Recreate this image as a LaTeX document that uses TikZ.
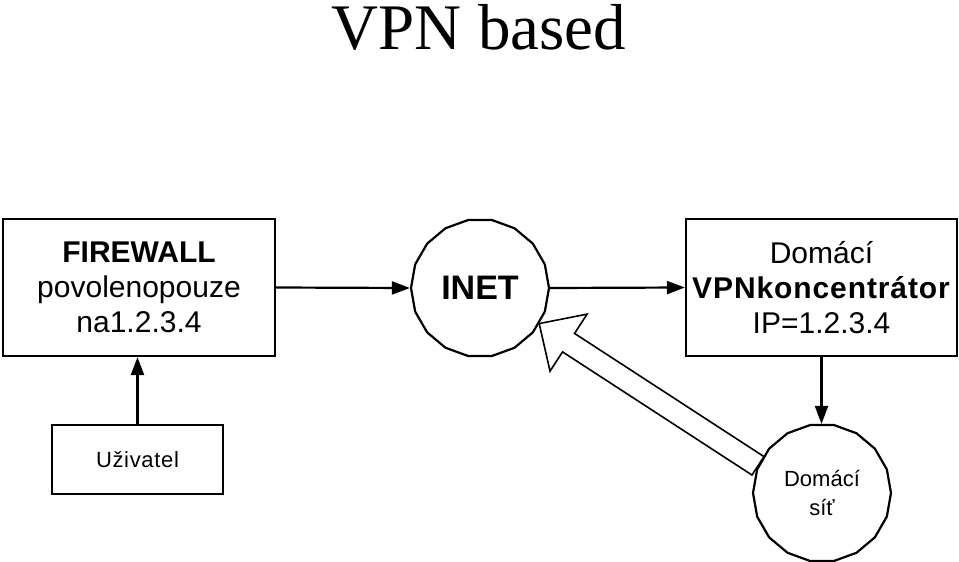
\documentclass[tikz,border=0pt]{standalone}
\usepackage{fontspec}
\setmainfont{Liberation Sans}
\newfontfamily\titlefont{Liberation Serif}
\usetikzlibrary{calc,shapes.geometric,arrows.meta}
\begin{document}
\begin{tikzpicture}[x=1pt,y=-1pt, line width=2.2pt,
  box/.style={draw, rectangle, inner sep=0pt, align=center, font=\fontsize{30}{35}\selectfont},
  net/.style={draw, regular polygon, regular polygon sides=18, minimum size=138pt, inner sep=0pt, align=center},
  conn/.style={-{Triangle[length=18pt,width=13pt]}},
  hollow/.style={draw, fill=white, line width=1.6pt, line join=miter}]
\useasboundingbox (0,0) rectangle (959,562);
\node[font=\titlefont\fontsize{65}{70}\selectfont, anchor=base, inner sep=0pt] (title) at (479,49) {VPN based};
\node[box, minimum width=272pt, minimum height=137pt] (fw) at (139,287.5)
  {\textbf{FIREWALL}\\povolenopouze\\na1.2.3.4};
\node[box, minimum width=271pt, minimum height=137pt] (vpn) at (821.5,287.5)
  {Domácí\\{\addfontfeature{LetterSpace=3}\textbf{VPNkoncentrátor}}\\IP=1.2.3.4};
\node[box, minimum width=171pt, minimum height=69pt, font=\addfontfeature{LetterSpace=3}\fontsize{22}{26}\selectfont] (user) at (137.5,459.5) {Uživatel};
\node[net, font=\bfseries\fontsize{34}{40}\selectfont] (inet) at (480,288) {INET};
\node[net, font=\fontsize{22}{29}\selectfont] (dom) at (822,493) {Domácí\\síť};
\draw[conn] (fw.east) -- (inet.180);
\draw[conn] (inet.0) -- (vpn.west);
\draw[conn] (user.north) -- (user.north |- fw.south);
\draw[conn] (vpn.south) -- (vpn.south |- dom.90);
\coordinate (ht) at (inet.-31.5);
\coordinate (hs) at (dom.157);
\coordinate (hb) at ($(ht)!35pt!(hs)$);
\draw[hollow] (ht) -- ($(hb)!34pt!90:(ht)$) -- ($(hb)!11pt!90:(ht)$)
  -- ($(hs)!11pt!90:(ht)$) -- ($(hs)!11pt!-90:(ht)$)
  -- ($(hb)!11pt!-90:(ht)$) -- ($(hb)!34pt!-90:(ht)$) -- cycle;
\end{tikzpicture}
\end{document}
